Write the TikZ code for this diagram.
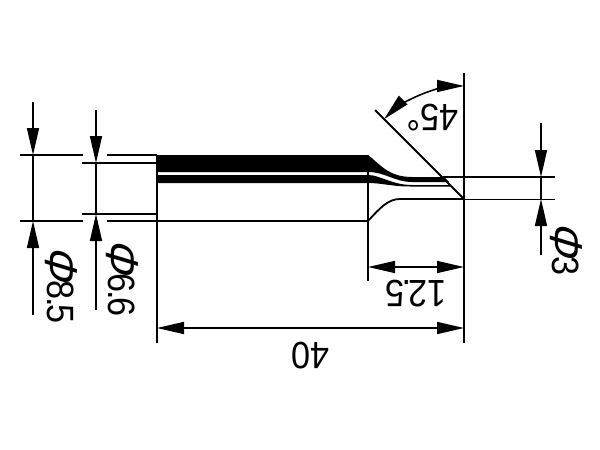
\documentclass[tikz,border=0pt]{standalone}
\usepackage{fontspec}
\setmainfont[FakeStretch=0.9]{Liberation Sans}
\newfontfamily\symbfont[FakeSlant=0.3, FakeStretch=0.95]{Liberation Sans}
\usetikzlibrary{arrows.meta}
\tikzset{
    thinline/.style={line width=0.8pt, color=black},
    bodyline/.style={line width=0.9pt, color=black},
    dimarrow/.style={thinline, -{Triangle[length=13.5pt, width=6pt]}},
    dimlabel/.style={inner sep=0pt, font=\fontsize{19}{19}\selectfont}
}
\newcommand{\diam}{\raisebox{-1pt}{\fontsize{23}{23}\symbfont\char"03A6}\kern0.5pt}
\newcommand{\tightdot}{\kern-1.2pt.\kern-1.2pt}
\begin{document}
\begin{tikzpicture}[x=0.5pt, y=-0.5pt]
        \useasboundingbox (0, 0) rectangle (600, 450);

        % tip outline
        \fill[black] (157, 155) -- (368, 155) .. controls (380, 164) and (388, 177) .. (412, 177) -- (444, 177) -- (449, 182) -- (412, 182) .. controls (395, 182) and (385, 172) .. (368, 172) -- (157, 172) -- cycle;
        \fill[black] (157, 175) -- (368, 175) .. controls (380, 175) and (392, 185) .. (412, 185) -- (449, 185) -- (451, 186.5) -- (410, 186.5) .. controls (392, 186.5) and (382, 183) .. (368, 183) -- (157, 183) -- cycle;
        \draw[bodyline] (157, 221) -- (368, 221) .. controls (380, 208) and (388, 199) .. (400, 199) -- (464, 199);

        % extension lines
        \draw[bodyline] (157, 155) -- (157, 343);
        \draw[bodyline] (368, 155) -- (368, 281);
        \draw[bodyline] (464, 73) -- (464, 343);
        \draw[thinline] (20, 155) -- (83, 155);
        \draw[thinline] (107, 155) -- (157, 155);
        \draw[thinline] (20, 221) -- (83, 221);
        \draw[thinline] (107, 221) -- (157, 221);
        \draw[thinline] (82, 163) -- (157, 163);
        \draw[thinline] (82, 214) -- (157, 214);
        \draw[thinline] (443, 177) -- (555, 177);
        \draw[thinline] (464, 199.5) -- (555, 199.5);
        \draw[bodyline] (375, 110) -- (464, 199);

        % diameter arrows
        \draw[thinline] (33, 155) -- (33, 221);
        \draw[dimarrow] (33, 102) -- (33, 155);
        \draw[dimarrow] (33, 315) -- (33, 221);
        \draw[thinline] (96, 163) -- (96, 214);
        \draw[dimarrow] (96, 110) -- (96, 163);
        \draw[dimarrow] (96, 310) -- (96, 214);
        \draw[thinline] (541, 177) -- (541, 199);
        \draw[dimarrow] (541, 123) -- (541, 177);
        \draw[dimarrow] (541, 255) -- (541, 199);

        % length arrows
        \draw[dimarrow] (416, 267) -- (464, 267);
        \draw[dimarrow] (416, 267) -- (368, 267);
        \draw[dimarrow] (310, 328) -- (464, 328);
        \draw[dimarrow] (310, 328) -- (157, 328);

        % angle arrows
        \draw[dimarrow] (464, 199) ++ (-42.3, -104.8) arc[start angle=-112, end angle=-135, radius=113];
        \draw[dimarrow] (464, 199) ++ (-42.3, -104.8) arc[start angle=-112, end angle=-90, radius=113];

        % labels
        \node[dimlabel, rotate=180] (len40) at (310, 356) {40};
        \node[dimlabel, rotate=180] (len125) at (416, 294) {12\tightdot5};
        \node[dimlabel, rotate=180] (ang45) at (433, 118) {45°};
        \node[dimlabel, rotate=-90] (dia85) at (61, 284) {\diam8\tightdot5};
        \node[dimlabel, rotate=-90] (dia66) at (122, 277) {\diam6\tightdot6};
        \node[dimlabel, rotate=-90] (dia3) at (566, 248) {\diam3};
    \end{tikzpicture}
\end{document}
